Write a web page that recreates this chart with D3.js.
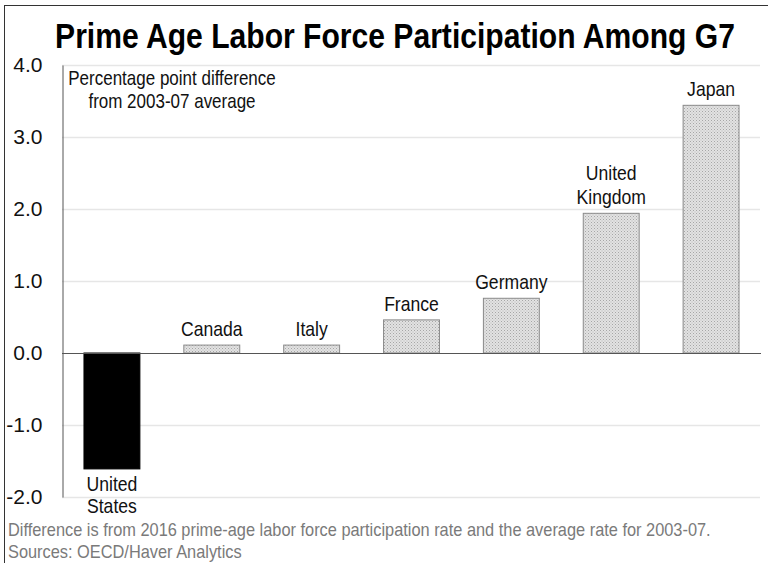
<!DOCTYPE html>
<html><head><meta charset="utf-8">
<script src="https://cdn.jsdelivr.net/npm/d3@7"></script>
<style>body{margin:0;background:#fff}svg{display:block}</style>
</head><body><svg id="c" width="768" height="563"></svg>
<script>
const categories = ["United States","Canada","Italy","France","Germany","United Kingdom","Japan"];
const labelLines = [["United","States"],["Canada"],["Italy"],["France"],["Germany"],["United","Kingdom"],["Japan"]];
const values = [-1.61, 0.11, 0.11, 0.46, 0.76, 1.94, 3.44];
const yTicks = [-2,-1,0,1,2,3,4];
const title = "Prime Age Labor Force Participation Among G7";
const subtitle = ["Percentage point difference","from 2003-07 average"];
const notes = ["Difference is from 2016 prime-age labor force participation rate and the average rate for 2003-07.","Sources: OECD/Haver Analytics"];

const FONT = "'Liberation Sans',Arial,sans-serif";
const svg = d3.select("#c");

// condensed text (reference uses a narrow face): placed via transform with horizontal scale
function ntext(parent, x0, y0, str, f, anchor){
  return parent.append("text")
    .attr("transform", `translate(${x0},${y0}) scale(${f},1)`)
    .attr("text-anchor", anchor || "start")
    .text(str);
}

const defs = svg.append("defs");
const pat = defs.append("pattern").attr("id","dots").attr("width",3).attr("height",3).attr("patternUnits","userSpaceOnUse");
pat.append("rect").attr("width",3).attr("height",3).attr("fill","#e2e2e2");
pat.append("rect").attr("x",0).attr("y",0).attr("width",1).attr("height",1).attr("fill","#a6a6a6");
pat.append("rect").attr("x",1.5).attr("y",1.5).attr("width",1).attr("height",1).attr("fill","#b8b8b8");

// frame (left & top)
svg.append("line").attr("x1",4.5).attr("x2",4.5).attr("y1",5).attr("y2",563).attr("stroke","#333").attr("stroke-width",1);
svg.append("line").attr("x1",4).attr("x2",768).attr("y1",5.5).attr("y2",5.5).attr("stroke","#333").attr("stroke-width",1);

const x = d3.scaleBand().domain(categories).range([62,761]).paddingInner(0.44).paddingOuter(0.22);
const y = d3.scaleLinear().domain([-2,4]).range([497,65]);

// gridlines
svg.append("g").selectAll("line").data(yTicks.filter(d=>d!==0)).join("line")
  .attr("x1",62).attr("x2",760).attr("y1",d=>y(d)+0.5).attr("y2",d=>y(d)+0.5)
  .attr("stroke","#e6e6e6").attr("stroke-width",1.5);

// y axis
const fmt = d => d3.format(".1f")(d).replace("\u2212","-");
const yAxis = d3.axisLeft(y).tickValues(yTicks).tickFormat(fmt).tickSize(0).tickPadding(20);
const ga = svg.append("g").attr("transform","translate(62.5,0)").call(yAxis);
ga.select(".domain").attr("stroke","#555");
ga.selectAll("text").attr("font-family",FONT).attr("font-size",21).attr("fill","#111").attr("dy","0.3em");

// bars
svg.append("g").selectAll("rect").data(categories).join("rect")
  .attr("x",d=>x(d)).attr("width",x.bandwidth())
  .attr("y",(d,i)=>y(Math.max(0,values[i])))
  .attr("height",(d,i)=>Math.abs(y(values[i])-y(0)))
  .attr("fill",(d,i)=>values[i]<0?"#000":"url(#dots)")
  .attr("stroke",(d,i)=>values[i]<0?"#000":"#8a8a8a").attr("stroke-width",1);

// zero line
svg.append("line").attr("x1",62).attr("x2",761).attr("y1",y(0)+0.5).attr("y2",y(0)+0.5).attr("stroke","#555").attr("stroke-width",1.2);

// labels
const lg = svg.append("g").attr("font-family",FONT).attr("font-size",20).attr("fill","#111");
categories.forEach((c,i)=>{
  const lines = labelLines[i];
  const cx = x(c)+x.bandwidth()/2;
  lines.forEach((l,k)=>{
    let yy;
    if(values[i]<0) yy = y(values[i]) + 22 + k*22;
    else yy = y(values[i]) - 9 - (lines.length-1-k)*24;
    ntext(lg, cx, yy, l, 0.88, "middle");
  });
});

// subtitle
const sg = svg.append("g").attr("font-family",FONT).attr("font-size",20).attr("fill","#111");
subtitle.forEach((s,k)=> ntext(sg, 172, 85+k*23, s, 0.85, "middle"));

// title
const tg = svg.append("g").attr("font-family",FONT).attr("font-weight","bold").attr("font-size",35).attr("fill","#000");
ntext(tg, 395, 48, title, 0.86, "middle");

// notes
const ng = svg.append("g").attr("font-family",FONT).attr("font-size",18).attr("fill","#7a7a7a");
notes.forEach((n,k)=> ntext(ng, 8, 536+k*22, n, 0.91, "start"));
</script></body></html>
